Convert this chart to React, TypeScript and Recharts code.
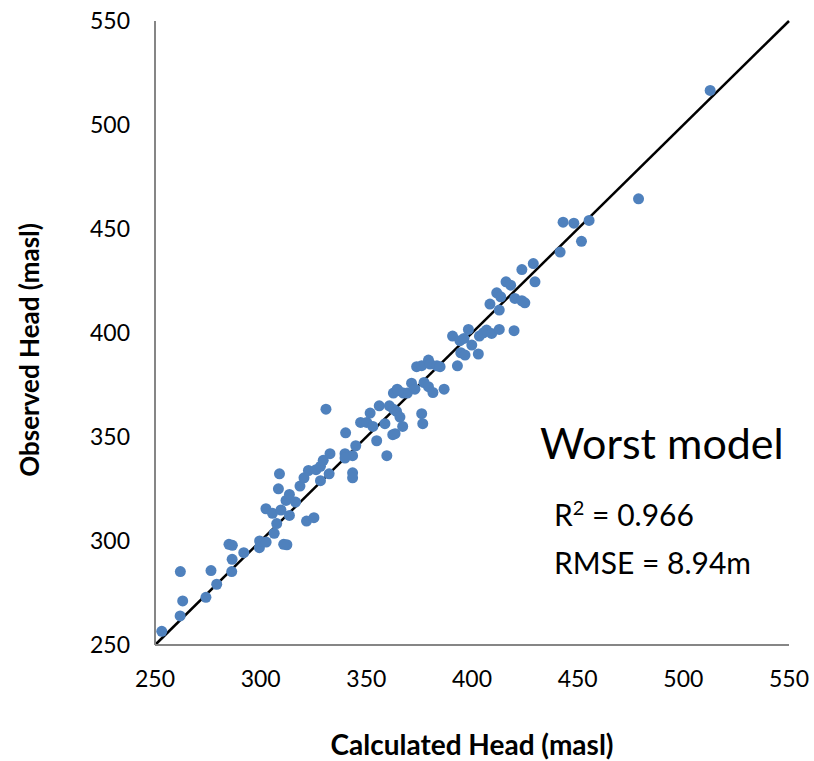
import { ScatterChart, Scatter, XAxis, YAxis, ReferenceLine } from 'recharts';

// calculated (x) vs observed (y) heads, masl
const CALC_HEAD = [
  253.2, 261.9, 263.1, 262, 274.1, 279.2, 276.5, 286.3, 286.5, 285, 286.6, 292, 299.4, 299.5, 302.6, 312.4,
  310.9, 306.4, 307.6, 313.6, 302.5, 305.6, 309.6, 312, 313.6, 316.5, 308.4, 308.9, 318.6, 320.5, 322.6, 326.2,
  328.3, 329.6, 332.8, 328.3, 332.4, 321.7, 325.2, 339.9, 343.5, 345, 343.5, 343.5, 354.9, 330.9, 339.9, 340.2,
  347.3, 350.2, 351.8, 353.1, 356.1, 358.8, 359.7, 360.9, 362.8, 364.3, 362.5, 363.6, 365.9, 367.2, 362.8, 364.6,
  367.5, 369.4, 371.4, 373, 376.2, 376.7, 377.3, 379.4, 381.5, 386.8, 365.1, 373.8, 376.2, 379.4, 380.2, 383.4,
  384.9, 393.1, 390.8, 394.3, 396.2, 398.3, 399.9, 394.7, 396.7, 403, 403.5, 405.4, 406.9, 409.3, 412.9, 419.9,
  408.5, 412.9, 411.7, 413.6, 416.1, 418.3, 420.3, 423.6, 425, 423.6, 429, 429.8, 441.7, 512.7, 478.8, 443.1,
  448.2, 455.4, 451.8,
];
const OBS_HEAD = [
  256.6, 264, 271.2, 285.3, 272.9, 279.2, 285.8, 285.3, 291.2, 298.4, 297.9, 294.4, 296.8, 300, 299.5, 298.2,
  298.4, 303.7, 308.4, 312.3, 315.5, 313.3, 314.9, 319.5, 322.4, 318.7, 325.1, 332.3, 326.4, 330.4, 333.9, 334.3,
  335.9, 338.8, 342, 329, 332.3, 309.6, 311.2, 342, 341, 345.8, 332.8, 330.4, 348.2, 363.4, 339.9, 352,
  357, 357, 361.5, 355.1, 365, 356.4, 341, 365, 363.4, 362.3, 351.1, 351.6, 359.6, 355.1, 371.1, 373,
  371.1, 371.1, 375.9, 373, 361.2, 356.4, 376.2, 374.2, 371.4, 373, 372.3, 383.8, 384.3, 387, 385.1, 384.2,
  383.8, 384.2, 398.5, 396.3, 397.4, 401.7, 394.2, 390.5, 389.4, 389.9, 398.5, 400.1, 401.4, 399.8, 401.7, 401.1,
  413.9, 411, 419.3, 417.4, 424.6, 423, 416.6, 415.5, 414.5, 430.5, 433.4, 424.6, 438.9, 516.6, 464.5, 453.3,
  452.8, 454.1, 444.1,
];
const TICKS = [250, 300, 350, 400, 450, 500, 550];
const DOMAIN: [number, number] = [250, 550];

const points = CALC_HEAD.map((x, i) => ({ x, y: OBS_HEAD[i] }));

const FONT = 'Lato, "Open Sans", sans-serif';
const AXIS_GREY = '#868686';
const DOT = '#4F81BD';

const tickStyle = { fontSize: 23, fill: '#000', fontFamily: FONT };
const titleStyle = { fontSize: 28, fontWeight: 700, fill: '#000', fontFamily: FONT, textAnchor: 'middle' as const };

// y title sits a little below the plot's middle in the original
const YTitle = () => (
  <text
    x={29}
    y={350}
    transform="rotate(-90 29 350)"
    textAnchor="middle"
    dominantBaseline="central"
    style={{ fontSize: 26, fontWeight: 700, fontFamily: FONT }}
    fill="#000"
  >
    Observed Head (masl)
  </text>
);

export default function App() {
  return (
    <div style={{ position: 'absolute', left: 0, top: 0, width: 814, height: 761, background: '#fff' }}>
      <ScatterChart width={814} height={761} margin={{ top: 21, right: 25, bottom: 0, left: 0 }}>
        <XAxis
          type="number"
          dataKey="x"
          domain={DOMAIN}
          ticks={TICKS}
          height={116}
          axisLine={{ stroke: AXIS_GREY, strokeWidth: 2 }}
          tickLine={false}
          tickSize={0}
          tickMargin={26}
          tick={tickStyle}
          label={{ value: 'Calculated Head (masl)', position: 'insideBottom', offset: 6, style: titleStyle }}
        />
        <YAxis
          type="number"
          dataKey="y"
          domain={DOMAIN}
          ticks={TICKS}
          width={155}
          axisLine={{ stroke: AXIS_GREY, strokeWidth: 2 }}
          tickLine={false}
          tickSize={0}
          tickMargin={25}
          tick={tickStyle}
          label={<YTitle />}
        />
        <Scatter
          data={points}
          isAnimationActive={false}
          shape={(p: any) => <circle cx={p.cx} cy={p.cy} r={5.5} fill={DOT} />}
        />
        <ReferenceLine
          segment={[{ x: 250, y: 250 }, { x: 550, y: 550 }]}
          stroke="#000"
          strokeWidth={2.5}
        />
      </ScatterChart>
      <div style={{ position: 'absolute', left: 540, top: 421, fontFamily: FONT, fontSize: 43, color: '#000', lineHeight: 1 }}>
        Worst model
      </div>
      <div style={{ position: 'absolute', left: 554, top: 492, fontFamily: FONT, fontSize: 30, color: '#000', lineHeight: '44px' }}>
        <div>
          R<span style={{ fontSize: 20, position: 'relative', top: -11 }}>2</span> = 0.966
        </div>
        <div>RMSE = 8.94m</div>
      </div>
    </div>
  );
}
